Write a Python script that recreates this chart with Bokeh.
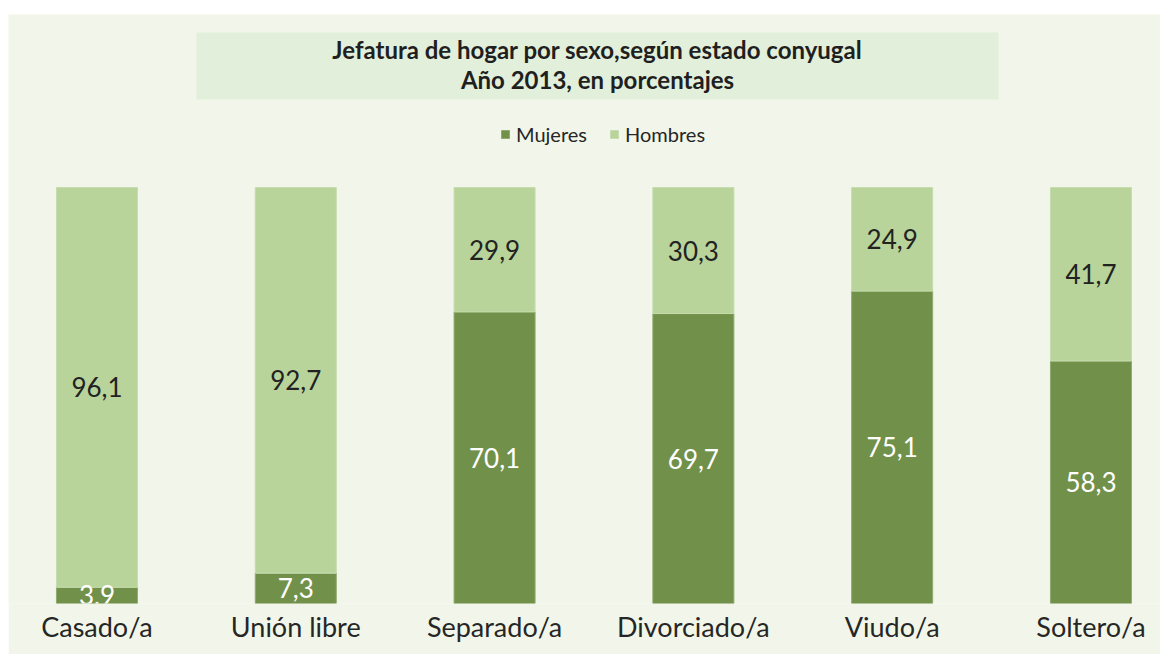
from bokeh.plotting import figure
from bokeh.models import (ColumnDataSource, Range1d, FixedTicker, BoxAnnotation,
                          Label, Legend, LegendItem)
from bokeh.core.properties import value
from bokeh.embed import file_html
from bokeh.resources import INLINE

categories = ["Casado/a", "Unión libre", "Separado/a", "Divorciado/a", "Viudo/a", "Soltero/a"]
mujeres = [3.9, 7.3, 70.1, 69.7, 75.1, 58.3]
hombres = [96.1, 92.7, 29.9, 30.3, 24.9, 41.7]
title_lines = ["Jefatura de hogar por sexo,según estado conyugal", "Año 2013, en porcentajes"]

BG = "#F2F6EA"
DARK = "#71914A"
LIGHT = "#B8D49A"
FONT = "Lato"

W, H = 1152, 640
FRAME_TOP, FRAME_BOTTOM = 14, 603   # page px
X0, X1 = -0.445, -0.445 + 1152 / 198.8
Y1 = (FRAME_BOTTOM - FRAME_TOP) / 4.16

def px_x(px):
    return X0 + (px - 8) / 198.8

def px_y(py):
    return (FRAME_BOTTOM - py) / 4.16

p = figure(width=W, height=H, output_backend="svg", toolbar_location=None,
           x_range=Range1d(X0, X1), y_range=Range1d(0, Y1),
           min_border_left=0, min_border_right=0, min_border_top=0,
           min_border_bottom=H - (FRAME_BOTTOM - FRAME_TOP),
           background_fill_color=BG, border_fill_color=BG, outline_line_color=None,
           margin=(14, 0, 0, 8))
p.grid.visible = False
p.yaxis.visible = False

xs = list(range(len(categories)))
src = ColumnDataSource(dict(
    x=xs, muj=mujeres, hom=hombres,
    muj_top=mujeres, hom_top=[m + h for m, h in zip(mujeres, hombres)],
    muj_y=[m / 2 for m in mujeres],
    hom_y=[m + h / 2 for m, h in zip(mujeres, hombres)],
    muj_lbl=[f"{v:.1f}".replace(".", ",") for v in mujeres],
    hom_lbl=[f"{v:.1f}".replace(".", ",") for v in hombres],
))

BW = 81 / 198.8
r_m = p.vbar(x="x", bottom=0, top="muj_top", width=BW, source=src,
             fill_color=DARK, line_color="#8FAA6E", line_width=1)
r_h = p.vbar(x="x", bottom="muj_top", top="hom_top", width=BW, source=src,
             fill_color=LIGHT, line_color="#C6DCAE", line_width=1)

p.text(x="x", y="muj_y", text="muj_lbl", source=src, text_align="center",
       text_baseline="middle", text_font=value(FONT), text_font_size="26px",
       text_color="white")
p.text(x="x", y="hom_y", text="hom_lbl", source=src, text_align="center",
       text_baseline="middle", text_font=value(FONT), text_font_size="26px",
       text_color="#222222")

ax = p.xaxis[0]
ax.ticker = FixedTicker(ticks=xs)
ax.major_label_overrides = {i: c for i, c in enumerate(categories)}
ax.axis_line_color = None
ax.major_tick_line_color = None
ax.minor_tick_line_color = None
ax.major_label_text_font = FONT
ax.major_label_text_font_size = "27px"
ax.major_label_text_color = "#262626"
ax.major_label_standoff = 0

# title box
p.add_layout(BoxAnnotation(left=px_x(196), right=px_x(998), top=px_y(32), bottom=px_y(99),
                           fill_color="#E2EFDA", fill_alpha=1, line_color=None, level="underlay"))
for t, py in zip(title_lines, [49, 79]):
    p.add_layout(Label(x=px_x(597), y=px_y(py), text=t, text_align="center",
                       text_baseline="middle", text_font=FONT, text_font_size="24px",
                       text_font_style="bold", text_color="#1F1F1F"))

legend = Legend(items=[LegendItem(label="Mujeres", renderers=[r_m]),
                       LegendItem(label="Hombres", renderers=[r_h])],
                orientation="horizontal", location=(492, 457),
                background_fill_alpha=0, border_line_color=None,
                label_text_font=FONT, label_text_font_size="20px",
                label_text_color="#262626", glyph_width=10, glyph_height=10,
                spacing=22, label_standoff=6, padding=4, margin=0)
p.add_layout(legend, "center")

open("out.html", "w").write(file_html(p, INLINE))
